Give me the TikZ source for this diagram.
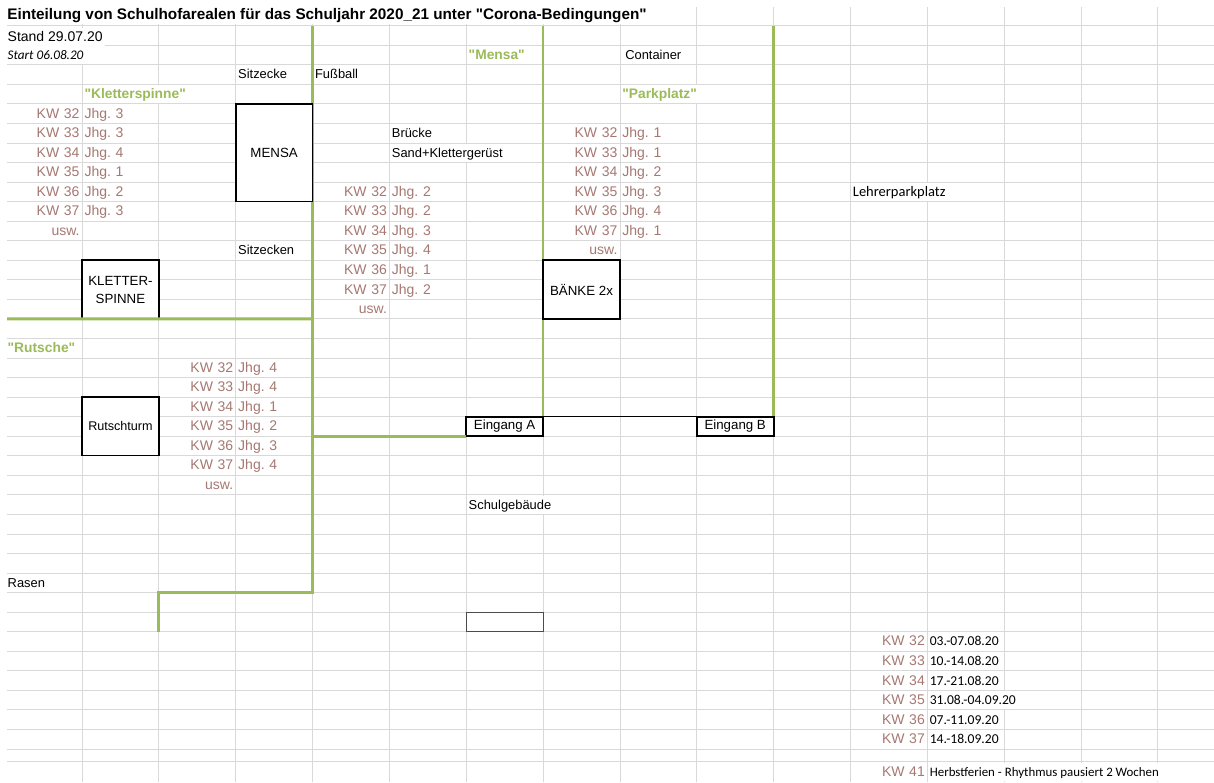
\documentclass[tikz,border=0pt]{standalone}
\usepackage{fontspec}
\setmainfont{Liberation Sans}[Ligatures=TeXOff]
\newfontfamily\calibri{Carlito}
\usetikzlibrary{positioning}
\definecolor{kwred}{RGB}{166,120,114}
\definecolor{areagreen}{RGB}{155,187,89}
\definecolor{gridgray}{RGB}{217,217,217}
\frenchspacing

\begin{document}
\begin{tikzpicture}[x=1pt,y=-1pt,node distance=0pt,
    gridline/.style={draw=gridgray,line width=0.8pt},
    wall/.style={draw=areagreen,line width=2.8pt},
    txt/.style={inner xsep=1.9pt,inner ysep=0pt,outer sep=0pt,text height=10pt,text depth=1pt,font=\fontsize{12.9}{15}\selectfont},
    cell/.style={txt,anchor=north west,inner xsep=2.5pt,text width=71.84pt,minimum height=19.55pt,align=left},
    kw/.style={cell,align=right,text=kwred,font=\fontsize{14}{15}\selectfont},
    jhg/.style={cell,text=kwred,font=\fontsize{14}{15}\selectfont},
    spill/.style={txt,anchor=west,fill=white,minimum height=18pt},
    area/.style={spill,text=areagreen,font=\bfseries\fontsize{13.8}{16}\selectfont},
    datum/.style={spill,font=\calibri\fontsize{13.6}{16}\selectfont},
    box/.style={draw,line width=1.8pt,fill=white,anchor=north west,inner sep=0pt,outer sep=0pt,minimum width=76.84pt,align=center,font=\fontsize{13.3}{18}\selectfont}]
    \path[fill=white] (0,0) rectangle (1214,782);
    \useasboundingbox (0,0) rectangle (1214,782);

    \begin{scope}[shift={(5.2,25.6)}]
        \draw[gridline,xstep=76.84pt,ystep=19.55pt] (2,-18.6) grid (1208.8,723.8);
        \draw[gridline,xstep=76.84pt,ystep=1000pt] (2,723.8) grid (1208.8,756.4);
    \end{scope}
    \draw[gridline] (7,761.8) -- (1214,761.8);

    \draw[wall] (312.56,25.6) -- (312.56,592.55) -- (158.88,592.55) -- (158.88,631.65);
    \draw[wall] (543.08,25.6) -- (543.08,416.6);
    \draw[wall] (773.6,25.6) -- (773.6,416.6);

    \node[spill,font=\bfseries\fontsize{15.3}{18}\selectfont] (titel) at (5.4,14.8) {Einteilung von Schulhofarealen für das Schuljahr 2020\_21 unter "Corona-Bedingungen"};
    \node[spill,font=\fontsize{14}{16}\selectfont] (stand) at (5.8,36.5) {Stand 29.07.20};
    \node[spill,font=\calibri\itshape\fontsize{13.2}{16}\selectfont] (start) at (5.8,54.9) {Start 06.08.20};

    \node[area] (amensa) at (466.84,54.9) {"Mensa"};
    \node[spill] (container) at (623.4,54.9) {Container};
    \node[cell] (sitzecke) at (235.72,64.7) {Sitzecke};
    \node[cell] (fussball) at (312.56,64.7) {Fußball};
    \node[area] (aspinne) at (82.64,94.0) {"Kletterspinne"};
    \node[area] (aparkplatz) at (620.5,94.0) {"Parkplatz"};
    \node[cell] (bruecke) at (389.4,123.35) {Brücke};
    \node[spill] (sand) at (390.0,152.7) {Sand+Klettergerüst};
    \node[spill,font=\calibri\fontsize{14.5}{16}\selectfont] (lehrer) at (851.0,191.8) {Lehrerparkplatz};
    \node[cell] (sitzecken) at (235.72,240.65) {Sitzecken};
    \node[area] (arutsche) at (5.8,348.2) {"Rutsche"};
    \node[spill] (schule) at (466.84,504.6) {Schulgebäude};
    \node[cell] (rasen) at (5.2,573.0) {Rasen};

    \node[kw] (ka32) at (5.2,103.8) {KW 32};
    \node[jhg,right=of ka32] (ja32) {Jhg. 3};
    \node[kw,below=of ka32] (ka33) {KW 33};
    \node[jhg,right=of ka33] (ja33) {Jhg. 3};
    \node[kw,below=of ka33] (ka34) {KW 34};
    \node[jhg,right=of ka34] (ja34) {Jhg. 4};
    \node[kw,below=of ka34] (ka35) {KW 35};
    \node[jhg,right=of ka35] (ja35) {Jhg. 1};
    \node[kw,below=of ka35] (ka36) {KW 36};
    \node[jhg,right=of ka36] (ja36) {Jhg. 2};
    \node[kw,below=of ka36] (ka37) {KW 37};
    \node[jhg,right=of ka37] (ja37) {Jhg. 3};
    \node[kw,below=of ka37] (usa) {usw.};

    \node[kw] (ke32) at (312.56,182.0) {KW 32};
    \node[jhg,right=of ke32] (je32) {Jhg. 2};
    \node[kw,below=of ke32] (ke33) {KW 33};
    \node[jhg,right=of ke33] (je33) {Jhg. 2};
    \node[kw,below=of ke33] (ke34) {KW 34};
    \node[jhg,right=of ke34] (je34) {Jhg. 3};
    \node[kw,below=of ke34] (ke35) {KW 35};
    \node[jhg,right=of ke35] (je35) {Jhg. 4};
    \node[kw,below=of ke35] (ke36) {KW 36};
    \node[jhg,right=of ke36] (je36) {Jhg. 1};
    \node[kw,below=of ke36] (ke37) {KW 37};
    \node[jhg,right=of ke37] (je37) {Jhg. 2};
    \node[kw,below=of ke37] (use) {usw.};

    \node[kw] (kh32) at (543.08,123.35) {KW 32};
    \node[jhg,right=of kh32] (jh32) {Jhg. 1};
    \node[kw,below=of kh32] (kh33) {KW 33};
    \node[jhg,right=of kh33] (jh33) {Jhg. 1};
    \node[kw,below=of kh33] (kh34) {KW 34};
    \node[jhg,right=of kh34] (jh34) {Jhg. 2};
    \node[kw,below=of kh34] (kh35) {KW 35};
    \node[jhg,right=of kh35] (jh35) {Jhg. 3};
    \node[kw,below=of kh35] (kh36) {KW 36};
    \node[jhg,right=of kh36] (jh36) {Jhg. 4};
    \node[kw,below=of kh36] (kh37) {KW 37};
    \node[jhg,right=of kh37] (jh37) {Jhg. 1};
    \node[kw,below=of kh37] (ush) {usw.};

    \node[kw] (kc32) at (158.88,357.95) {KW 32};
    \node[jhg,right=of kc32] (jc32) {Jhg. 4};
    \node[kw,below=of kc32] (kc33) {KW 33};
    \node[jhg,right=of kc33] (jc33) {Jhg. 4};
    \node[kw,below=of kc33] (kc34) {KW 34};
    \node[jhg,right=of kc34] (jc34) {Jhg. 1};
    \node[kw,below=of kc34] (kc35) {KW 35};
    \node[jhg,right=of kc35] (jc35) {Jhg. 2};
    \node[kw,below=of kc35] (kc36) {KW 36};
    \node[jhg,right=of kc36] (jc36) {Jhg. 3};
    \node[kw,below=of kc36] (kc37) {KW 37};
    \node[jhg,right=of kc37] (jc37) {Jhg. 4};
    \node[kw,below=of kc37] (usc) {usw.};

    \node[kw] (kl32) at (850.44,631.65) {KW 32};
    \node[datum,right=0.6pt of kl32] (d32) {03.-07.08.20};
    \node[kw,below=of kl32] (kl33) {KW 33};
    \node[datum,right=0.6pt of kl33] (d33) {10.-14.08.20};
    \node[kw,below=of kl33] (kl34) {KW 34};
    \node[datum,right=0.6pt of kl34] (d34) {17.-21.08.20};
    \node[kw,below=of kl34] (kl35) {KW 35};
    \node[datum,right=0.6pt of kl35] (d35) {31.08.-04.09.20};
    \node[kw,below=of kl35] (kl36) {KW 36};
    \node[datum,right=0.6pt of kl36] (d36) {07.-11.09.20};
    \node[kw,below=of kl36] (kl37) {KW 37};
    \node[datum,right=0.6pt of kl37] (d37) {14.-18.09.20};
    \node[kw] (kl41) at (850.44,761.8) {KW 41};
    \node[datum,right=0.6pt of kl41,font=\calibri\fontsize{12.9}{16}\selectfont] (herbst) {Herbstferien - Rhythmus pausiert 2 Wochen};

    \node[box,minimum height=97.75pt] (mensa) at (235.72,103.8) {MENSA};
    \node[box,minimum height=58.65pt] (kspinne) at (82.04,260.2) {KLETTER-\\SPINNE};
    \node[box,minimum height=58.65pt] (baenke) at (543.08,260.2) {BÄNKE 2x};
    \node[box,line width=1.3pt,minimum height=58.65pt,font=\fontsize{12.6}{15}\selectfont] (rturm) at (82.04,397.05) {Rutschturm};
    \node[box,minimum height=19.55pt] (einga) at (466.24,416.6) {Eingang A};
    \node[box,minimum height=19.55pt] (eingb) at (696.76,416.6) {Eingang B};
    \node[box,line width=0.9pt,draw=black!70,minimum height=19.55pt] (leer) at (466.24,612.1) {};

    \draw[wall] (7,318.85) -- (kspinne.south west) -- (312.56,318.85);
    \draw[wall] (312.56,436.15) -- (einga.south west);
    \draw[line width=0.9pt] (einga.north east) -- (eingb.north west);
\end{tikzpicture}
\end{document}
